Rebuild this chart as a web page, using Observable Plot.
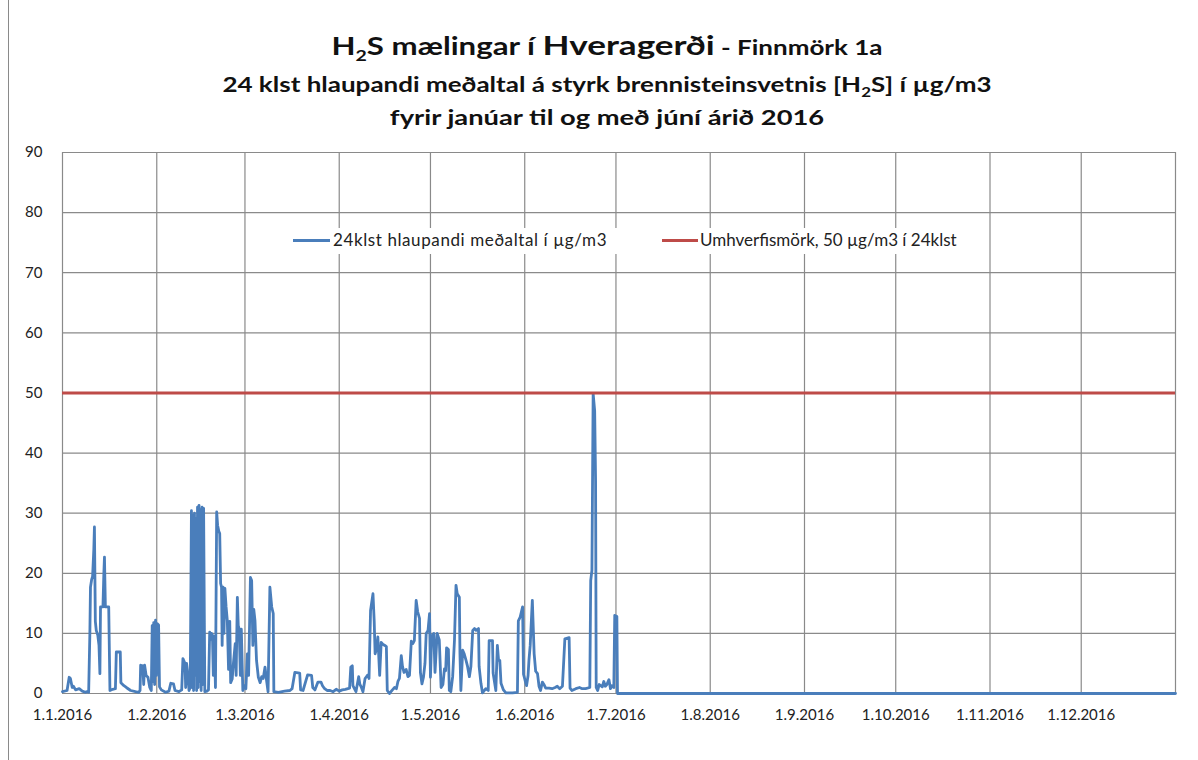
<!DOCTYPE html>
<html><head><meta charset="utf-8">
<script src="https://cdn.jsdelivr.net/npm/d3@7"></script>
<script src="https://cdn.jsdelivr.net/npm/@observablehq/plot@0.6"></script>
<style>
body{margin:0;background:#fff;font-family:Lato,"DejaVu Sans",sans-serif;}
#wrap{position:relative;width:1198px;height:760px;overflow:hidden;background:#fff;}
#frame{position:absolute;left:8px;top:0;width:0;height:760px;border-left:1px solid #8a8a8a;}
.tl{position:absolute;left:0;width:1214px;text-align:center;font-weight:bold;color:#111;white-space:nowrap;transform:scaleX(1.3);transform-origin:607px 50%;}
#chart{position:absolute;left:0;top:140px;}
.lg{position:absolute;font-size:17px;color:#222;white-space:nowrap;line-height:18px;}
.sw{position:absolute;height:3px;}
#legend{position:absolute;left:286px;top:228px;width:684px;height:26px;background:#fff;}
</style></head><body>
<div id="wrap">
  <div id="chart"></div>
  <div id="frame"></div>
  <div class="tl" style="top:30px;line-height:30px;font-size:24px;">H<sub style="font-size:15px">2</sub>S mælingar í <span style="font-size:27px">Hveragerði</span><span style="font-size:20px"> - Finnmörk 1a</span></div>
  <div class="tl" style="top:71px;line-height:26px;font-size:20px;">24 klst hlaupandi meðaltal á styrk brennisteinsvetnis [H<sub style="font-size:13px">2</sub>S] í µg/m3</div>
  <div class="tl" style="top:104px;line-height:26px;font-size:21px;">fyrir janúar til og með júní árið 2016</div>
  <div id="legend"></div>
  <div class="sw" style="left:293px;top:239px;width:37px;background:#4a7ebb;"></div>
  <div class="lg" id="lgA" style="left:333px;top:231px;letter-spacing:0.6px;"></div>
  <div class="sw" style="left:662px;top:239px;width:36px;background:#be4b48;"></div>
  <div class="lg" id="lgB" style="left:700px;top:231px;"></div>
</div>
<script>
// Days since 1.1.2016 and the 24h running mean H2S (µg/m3)
const dayOffsets = [
0,1.5,2.2,2.6,3.2,3.6,4.3,5.5,6.5,7.5,
8.1,8.6,9.0,9.2,9.6,9.9,10.3,10.5,10.8,11.1,
11.6,12.0,12.3,12.5,13.3,13.6,13.8,14.1,15.2,15.6,
16.5,17.4,17.7,19.0,19.2,20.2,21,22.4,24,25.1,
25.5,25.7,26.4,26.7,27.0,27.5,28.1,28.7,29.2,29.5,
29.7,30.0,30.3,30.6,30.9,31.2,31.6,31.9,32.5,33.9,
35,35.6,36.5,37,38.3,39.2,39.6,40.3,40.5,40.8,
41.2,41.6,42.0,42.4,42.6,42.9,43.1,43.4,43.6,43.9,
44.1,44.4,44.6,44.9,45.1,45.4,45.6,45.9,46.1,46.4,
46.8,47.5,48.0,48.4,48.7,49.0,49.3,49.6,49.9,50.3,
50.7,51.0,51.4,51.7,52.0,52.3,52.5,52.8,53.1,53.4,
53.8,54.2,54.6,55.0,55.3,55.8,56.2,56.8,57.1,57.5,
57.8,58.1,58.5,58.8,59.3,59.8,60.3,60.8,61.2,61.8,
62.2,62.6,62.9,63.3,63.8,64.4,65,65.5,66,66.6,
67.1,67.6,68.2,68.8,69.3,69.5,71,73,74.8,75.5,
76.4,78,78.3,79.1,80.6,81.9,82.3,83,84,85,
85.5,86.2,87,88,89,90,91,92,93,94.4,
94.8,95.3,95.5,96.5,97.4,97.8,98.3,98.8,99.5,100.4,
100.8,101.3,102.1,102.5,102.8,103.3,103.7,104.3,104.8,105.3,
106.0,106.5,106.8,107.5,108.5,109.2,109.8,110.3,110.8,111.4,
111.8,112.3,113,113.6,114.1,114.7,115.2,115.7,116.3,116.8,
117.4,117.7,118.2,118.7,119.2,119.6,120.2,120.7,121.0,121.4,
122.1,122.5,123.2,123.9,124.5,125.1,125.6,126.0,126.3,126.9,
127.2,127.7,128.3,128.9,129.4,129.8,130.5,130.7,131,131.6,
132.1,132.7,133.2,133.8,134.3,134.9,135.5,136.0,136.8,137,
137.6,138.1,139.2,140,140.3,141.4,141.6,142.5,143,143.4,
143.8,144.2,145,145.8,148,149.6,149.9,150.5,151.3,151.6,
152.1,152.6,153.1,153.4,153.8,154.5,154.8,155.1,155.6,156.2,
156.7,157.2,157.8,158.3,158.9,160,161,162,162.7,163.5,
164.4,165.2,166.6,166.9,167.5,168.8,170,170.9,172,173.4,
173.7,174.1,174.5,175.0,175.3,175.5,176,176.5,177,177.5,
178,178.5,179,179.7,180.2,180.7,181.3,181.6,182.3,182.5,
366
];
const h2sValues = [
0.3,0.5,2.7,2.5,1.0,1.2,0.6,0.8,0.4,0.2,
0.3,0.2,10,17.7,19,19.5,24,27.7,12,10.5,
9.7,8,3.3,14.4,14.4,20,22.7,14.4,14.4,0.5,
0.7,0.8,6.9,6.9,1.8,1.3,1.0,0.5,0.3,0.2,
0.5,4.7,4.6,1.5,4.7,3.0,2.7,1.0,0.5,11.3,
2,11.8,1.5,12.2,3,11.6,11.4,1.1,0.6,0.2,
0.4,1.7,1.6,0.5,0.3,0.6,5.8,5.0,1,5.0,
3.4,0.5,1.0,30.4,1.0,29.5,0.5,30.0,3,29.0,
0.5,31.0,1,31.3,2,30.5,0.5,31.0,1.5,30.8,
0.3,0.4,0.6,10.2,9.0,10,9.7,3,9.5,1.0,
30.2,28,27,26.6,18.3,17.7,8,17.7,10,17.5,
14.4,12.1,4,12,1.8,2.4,5,8.3,3,16.0,
11.3,10.7,3,10.7,0.5,1.3,0.8,6.6,3,19.3,
18.8,8,14,12.1,5.5,2.7,1.8,2.8,2.5,4.4,
2.2,0.3,17.7,14.4,13.3,0.3,0.2,0.4,0.5,0.8,
3.5,3.4,0.6,0.5,3.1,3.0,1.0,0.6,1.9,1.9,
1.3,0.8,0.5,0.5,0.3,0.7,0.4,0.6,0.7,0.9,
4.4,4.6,1.3,0.3,2.8,1.5,1.0,0.3,2.5,3.1,
2.5,13.8,16.6,12,6.6,7.5,9.4,3,8.5,8.2,
8,7.8,0.5,0,0.6,1.0,0.8,2.0,2.5,6.3,
4.5,3.5,4.0,2.8,3.0,8.7,8.3,8.8,15.5,13.6,
12.5,3.5,1.6,2.7,5,10,10.5,13.3,2.7,9.5,
10,3.5,10,8.9,1.0,1.5,4.1,3.8,7.6,7.3,
0.5,0.3,2.8,8.9,18.0,16.6,16,6.6,0.5,7.2,
6.6,5.5,4.5,2.8,4.5,10.5,10.8,10.5,10.8,4.5,
1.7,0.1,0.8,0.5,8.8,8.8,3.4,0.5,8.0,5.5,
5.5,1.7,0.6,0.1,0.1,0.2,12.1,12.7,14.4,3.2,
2.2,1.3,3,5.6,8,15.5,11,6.6,3.7,3.3,
1.2,0.5,1.9,1.5,0.9,0.9,0.8,1.0,1.2,0.8,
1.2,9.1,9.3,0.9,0.5,0.8,1.0,0.8,0.8,1.0,
18.8,20.5,49.9,47.0,35.4,1.0,0.5,1.5,1.3,1.1,
2.0,1.2,1.5,2.3,0.8,1.3,1.0,13,12.8,0,
0
];
const limitValue = 50;
const yTicks = [0,10,20,30,40,50,60,70,80,90];
const monthStarts = ["2016-01-01","2016-02-01","2016-03-01","2016-04-01","2016-05-01","2016-06-01","2016-07-01","2016-08-01","2016-09-01","2016-10-01","2016-11-01","2016-12-01","2017-01-01"];
const tickLabels = ["1.1.2016","1.2.2016","1.3.2016","1.4.2016","1.5.2016","1.6.2016","1.7.2016","1.8.2016","1.9.2016","1.10.2016","1.11.2016","1.12.2016"];
const seriesNames = ["24klst hlaupandi meðaltal í µg/m3","Umhverfismörk, 50 µg/m3 í 24klst"];

document.getElementById("lgA").textContent = seriesNames[0];
document.getElementById("lgB").textContent = seriesNames[1];

const start = Date.UTC(2016,0,1);
const data = dayOffsets.map((d,i)=>({date:new Date(start + d*864e5), value:h2sValues[i]}));
const gridDates = monthStarts.map(s=>new Date(s+"T00:00:00Z"));
const labelDates = gridDates.slice(0, tickLabels.length);

const chart = Plot.plot({
  width:1198, height:620,
  marginTop:12, marginBottom:67, marginLeft:62, marginRight:23,
  x:{type:"utc", domain:[gridDates[0], gridDates[gridDates.length-1]], label:null},
  y:{domain:[0,90], label:null},
  style:{fontFamily:"Lato, sans-serif", fontSize:"15px", color:"#222", background:"transparent"},
  marks:[
    Plot.gridY(yTicks,{stroke:"#8a8a8a", strokeOpacity:1, strokeWidth:1.2}),
    Plot.gridX(gridDates,{stroke:"#8a8a8a", strokeOpacity:1, strokeWidth:1.2}),
    Plot.axisY(yTicks,{tickSize:0, tickPadding:20, fontSize:15, fill:"#222", label:null}),
    Plot.axisX(labelDates,{tickSize:0, tickPadding:16, fontSize:15, fill:"#222", label:null,
      tickFormat:(d,i)=>tickLabels[i]}),
    Plot.lineY(data,{x:"date", y:"value", stroke:"#4a7ebb", strokeWidth:2.8, curve:"linear"}),
    Plot.ruleY([limitValue],{stroke:"#be4b48", strokeWidth:3})
  ]
});
document.getElementById("chart").appendChild(chart);
</script>
</body></html>
